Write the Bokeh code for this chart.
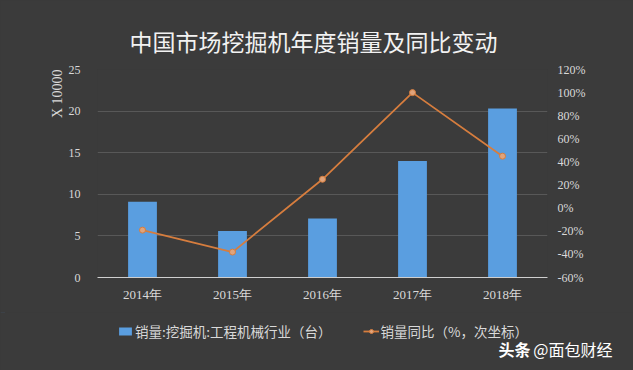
from bokeh.plotting import figure
from bokeh.layouts import column
from bokeh.models import (Range1d, LinearAxis, FixedTicker, Label, Legend, LegendItem, Title,
                          PrintfTickFormatter, ColumnDataSource)
from bokeh.embed import file_html
from bokeh.resources import INLINE

# ---- data ----
years = ["2014年", "2015年", "2016年", "2017年", "2018年"]
sales = [9.1, 5.6, 7.1, 14.0, 20.3]        # 万台 (x 10000)
yoy = [-19.0, -38.0, 25.0, 100.0, 45.0]    # %
left_ticks = [0, 5, 10, 15, 20, 25]
right_ticks = [-60, -40, -20, 0, 20, 40, 60, 80, 100, 120]
title_text = "中国市场挖掘机年度销量及同比变动"
bar_name = "销量:挖掘机:工程机械行业（台）"
line_name = "销量同比（%，次坐标）"
unit_text = "X 10000"
credit_parts = ["头条", "@面包财经"]

BG = "#3b3b3b"
TXT = "#d9d9d9"
BLUE = "#5a9ee0"
ORANGE = "#d67d3e"
MARK = "#e0a47c"

W = 633
H_TOP = 312
H_BOT = 58

xs = list(range(len(years)))
src = ColumnDataSource(dict(x=xs, sales=sales, yoy=yoy))

p = figure(width=W, height=H_TOP, x_range=Range1d(-0.5, 4.5), y_range=Range1d(0, 25),
           output_backend="svg", toolbar_location=None,
           min_border_left=97, min_border_right=86, min_border_top=69, min_border_bottom=35,
           background_fill_color=BG, border_fill_color=BG, outline_line_color=None)
p.extra_y_ranges = {"pct": Range1d(-60, 120)}

p.vbar(x="x", top="sales", width=0.32, source=src, fill_color=BLUE, line_color=None)
p.line(x="x", y="yoy", source=src, y_range_name="pct", line_color=ORANGE, line_width=1.8)
p.scatter(x="x", y="yoy", source=src, y_range_name="pct", size=6,
          fill_color=MARK, line_color=ORANGE)

# title
p.title.text = title_text
p.title.align = "left"
p.title.offset = 32
p.title.text_font = "Noto Sans CJK SC"
p.title.text_font_size = "23px"
p.title.text_font_style = "normal"
p.title.text_color = "#f2f2f2"
p.title.standoff = 23

# axes
p.xaxis.ticker = FixedTicker(ticks=xs)
p.xaxis.major_label_overrides = {i: y for i, y in enumerate(years)}
p.xaxis.axis_line_color = "#cfcfcf"
p.xaxis.major_tick_in = 0
p.xaxis.major_tick_out = 0
p.xaxis.minor_tick_line_color = None
p.xaxis.major_label_text_color = TXT
p.xaxis.major_label_text_font = "Liberation Serif"
p.xaxis.major_label_text_font_size = "13px"
p.xaxis.major_label_standoff = 9

p.yaxis.ticker = FixedTicker(ticks=left_ticks)
p.yaxis.axis_line_color = None
p.yaxis.major_tick_in = 0
p.yaxis.major_tick_out = 0
p.yaxis.minor_tick_line_color = None
p.yaxis.major_label_text_color = TXT
p.yaxis.major_label_text_font = "Liberation Serif"
p.yaxis.major_label_text_font_size = "12px"
p.yaxis.major_label_standoff = 17

ax2 = LinearAxis(y_range_name="pct", ticker=FixedTicker(ticks=right_ticks),
                 formatter=PrintfTickFormatter(format="%d%%"))
ax2.axis_line_color = None
ax2.major_tick_in = 0
ax2.major_tick_out = 0
ax2.minor_tick_line_color = None
ax2.major_label_text_color = TXT
ax2.major_label_text_font = "Liberation Serif"
ax2.major_label_text_font_size = "12px"
ax2.major_label_standoff = 10
p.add_layout(ax2, "right")

p.xgrid.grid_line_color = None
p.ygrid.grid_line_color = "#585858"
p.ygrid.ticker = FixedTicker(ticks=left_ticks)

p.add_layout(Title(text=unit_text, align="right", text_font="Liberation Serif",
                   text_font_size="14px", text_font_style="normal", text_color=TXT,
                   standoff=2), "left")

# ---- legend strip (legend proxies share the data but sit outside the strip's view) ----
q = figure(width=W, height=H_BOT, x_range=Range1d(0, W), y_range=Range1d(-200, -200 + H_BOT),
           output_backend="svg", toolbar_location=None, x_axis_type=None, y_axis_type=None,
           min_border=0, background_fill_color=BG, border_fill_color=BG, outline_line_color=None)
if "frame_align" in q.properties():
    q.frame_align = False
q.xgrid.grid_line_color = None
q.ygrid.grid_line_color = None
lb = q.vbar(x="x", top="sales", width=0.32, source=src, fill_color=BLUE, line_color=None)
ll = q.line(x="x", y="yoy", source=src, line_color=ORANGE, line_width=1.8)
lp = q.scatter(x="x", y="yoy", source=src, size=6, fill_color=MARK, line_color=ORANGE)

legend = Legend(items=[LegendItem(label=bar_name, renderers=[lb]),
                       LegendItem(label=line_name, renderers=[ll, lp])],
                orientation="horizontal", location=(117, 29),
                background_fill_alpha=0, border_line_color=None,
                label_text_color=TXT, label_text_font="Noto Sans CJK SC",
                label_text_font_size="13.5px", glyph_width=16, glyph_height=10,
                spacing=31, padding=4, margin=0, label_standoff=2)
q.add_layout(legend, "center")

q.add_layout(Label(x=498, y=-200 + 22, text=credit_parts[0], text_align="left",
                   text_baseline="middle", text_color="#ffffff", text_font="Noto Sans CJK SC",
                   text_font_size="16px", text_font_style="bold"))
q.add_layout(Label(x=612, y=-200 + 22, text=credit_parts[1], text_align="right",
                   text_baseline="middle", text_color="#ffffff", text_font="Noto Sans CJK SC",
                   text_font_size="16px"))

layout = column(p, q, spacing=0, styles={"background-color": BG})
open("out.html", "w").write(file_html(layout, INLINE))
